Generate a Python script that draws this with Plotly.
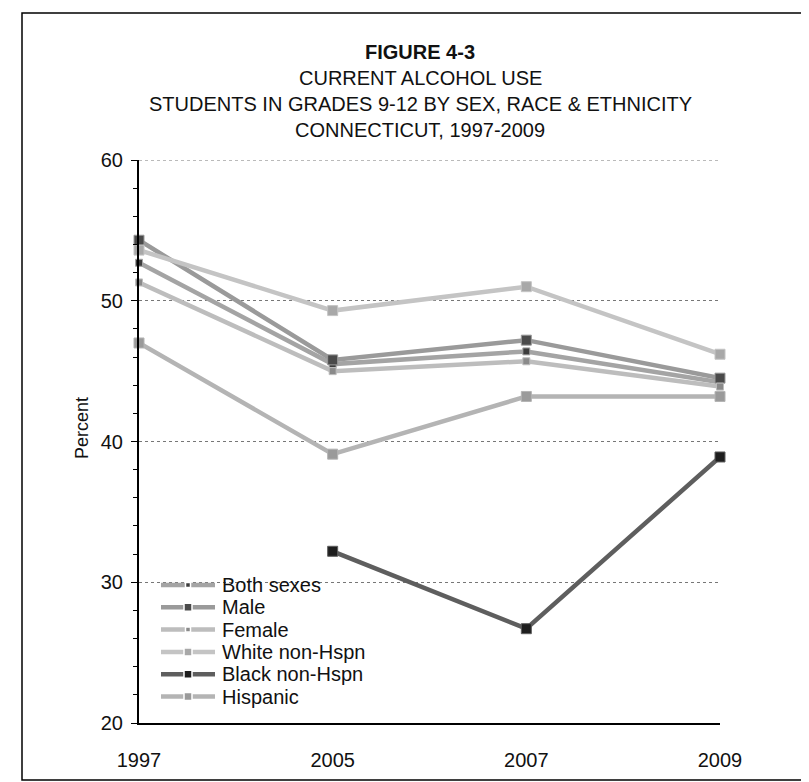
import plotly.graph_objects as go

years = ["1997", "2005", "2007", "2009"]
both_sexes = [52.7, 45.5, 46.4, 44.2]
male = [54.3, 45.8, 47.2, 44.5]
female = [51.3, 45.0, 45.7, 43.9]
white = [53.6, 49.3, 51.0, 46.2]
black = [None, 32.2, 26.7, 38.9]
hispanic = [47.0, 39.1, 43.2, 43.2]

series = [
    ("Both sexes", both_sexes, "#a4a4a4", "#3c3c3c", 7),
    ("Male", male, "#9a9a9a", "#4a4a4a", 10),
    ("Female", female, "#bdbdbd", "#8a8a8a", 7),
    ("White non-Hspn", white, "#c4c4c4", "#a8a8a8", 10),
    ("Black non-Hspn", black, "#5e5e5e", "#1e1e1e", 10),
    ("Hispanic", hispanic, "#b4b4b4", "#9a9a9a", 10),
]

xpos = list(range(len(years)))
FONT = "Liberation Sans, Arial, sans-serif"

# plot area in pixels
L, R, T, B = 131, 712, 152, 715
W, H = R - L, B - T


def px(x):
    return (x - L) / W


def py(y):
    return (B - y) / H


fig = go.Figure()
for name, vals, lc, mc, ms in series:
    fig.add_trace(go.Scatter(
        x=xpos, y=vals, name=name, mode="lines+markers",
        line=dict(color=lc, width=4.5),
        marker=dict(symbol="square", size=ms, color=mc, line=dict(color=lc, width=1)),
        connectgaps=False, cliponaxis=False, showlegend=False,
    ))

fig.update_layout(
    width=809, height=782,
    margin=dict(l=L, r=809 - R, t=T, b=782 - B),
    paper_bgcolor="white", plot_bgcolor="white",
    font=dict(family=FONT, size=20, color="#111"),
    showlegend=False,
    xaxis=dict(
        range=[0, 3], tickmode="array", tickvals=xpos, ticktext=years,
        showgrid=False, zeroline=False, showline=True, linecolor="#000", linewidth=2,
        ticks="", ticklabelstandoff=18, tickfont=dict(size=20),
    ),
    yaxis=dict(
        range=[20, 60], dtick=10, showgrid=True, gridcolor="#777", griddash="dot", gridwidth=1,
        zeroline=False, showline=True, linecolor="#000", linewidth=2,
        ticks="outside", ticklen=6, tickcolor="#000", ticklabelstandoff=4,
        minor=dict(dtick=2, ticks="outside", ticklen=4, tickcolor="#000", showgrid=False),
        tickfont=dict(size=20),
    ),
)

# top gridline at 60
fig.add_shape(type="line", xref="paper", yref="y", x0=0, x1=1, y0=60, y1=60,
              line=dict(color="#777", width=1, dash="dot"))

titles = [
    ("<b>FIGURE 4-3</b>", 44),
    ("CURRENT ALCOHOL USE", 70),
    ("STUDENTS IN GRADES 9-12 BY SEX, RACE &amp; ETHNICITY", 96),
    ("CONNECTICUT, 1997-2009", 122),
]
for txt, yy in titles:
    fig.add_annotation(text=txt, x=px(412), y=py(yy), xref="paper", yref="paper",
                       showarrow=False, xanchor="center", yanchor="middle",
                       font=dict(size=20, family=FONT, color="#111"))

fig.add_annotation(text="Percent", x=px(74), y=py(420),
                   xref="paper", yref="paper", showarrow=False, textangle=-90,
                   xanchor="center", yanchor="middle", font=dict(size=18, family=FONT))

# legend drawn inside the plot area
leg_y0, leg_dy = 577, 22.3
for i, (name, vals, lc, mc, ms) in enumerate(series):
    yy = leg_y0 + i * leg_dy
    fig.add_shape(type="line", xref="paper", yref="paper",
                  x0=px(153), x1=px(207), y0=py(yy), y1=py(yy),
                  line=dict(color=lc, width=4.5))
    h = (ms - 2) / 2
    fig.add_shape(type="rect", xref="paper", yref="paper",
                  x0=px(180 - h), x1=px(180 + h), y0=py(yy - h), y1=py(yy + h),
                  line=dict(color="white", width=1.5), fillcolor=mc)
    fig.add_annotation(text=name, x=px(212), y=py(yy), xref="paper", yref="paper",
                       showarrow=False, xanchor="left", yanchor="middle",
                       font=dict(size=20, family=FONT, color="#111"))

fig.add_shape(type="rect", xref="paper", yref="paper",
              x0=px(14), x1=px(805), y0=py(772), y1=py(5),
              line=dict(color="#000", width=1.5), fillcolor="rgba(0,0,0,0)", layer="below")

fig.write_html("out.html")
